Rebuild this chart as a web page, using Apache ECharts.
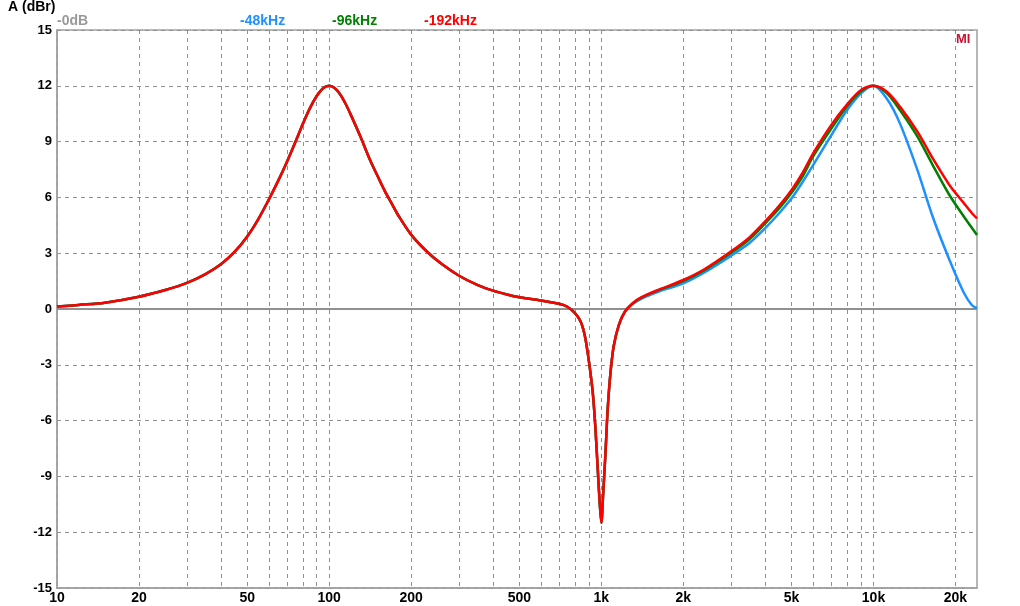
<!DOCTYPE html>
<html>
<head>
<meta charset="utf-8">
<script src="https://cdn.jsdelivr.net/npm/echarts@6/dist/echarts.min.js"></script>
<style>
html,body{margin:0;padding:0;background:#fff;}
#chart{width:1020px;height:606px;}
</style>
</head>
<body>
<div id="chart"></div>
<script>
// Frequencies (Hz)
var freqs = [10, 12, 15, 20, 25, 30, 35, 40, 45, 50, 55, 60, 65, 70, 75, 80, 85, 90, 95, 100,
  105, 110, 115, 120, 130, 140, 150, 160, 170, 180, 200, 230, 260, 300, 350, 400, 450, 500, 600, 700,
  750, 800, 840, 870, 900, 930, 950, 970, 985, 1000, 1015, 1035, 1055, 1080, 1110, 1160, 1220, 1300, 1400, 1600,
  2000, 2400, 3000, 3500, 4000, 4500, 5000, 5500, 6000, 7000, 8000, 9000, 10000, 11200, 12500, 14500, 16500, 19000, 21500, 23000, 24000];

// Common low/mid part (identical for all sample rates), values in dBr
var lowMid = [0.13, 0.22, 0.34, 0.66, 1.02, 1.4, 1.86, 2.4, 3.08, 3.9, 4.85, 5.88, 6.9, 7.92, 8.95, 9.95, 10.8, 11.45, 11.87, 12.0,
  11.87, 11.52, 11.02, 10.45, 9.3, 8.15, 7.2, 6.35, 5.65, 5.0, 4.0, 3.05, 2.4, 1.79, 1.3, 0.99, 0.78, 0.63, 0.46, 0.28,
  0.12, -0.22, -0.68, -1.45, -2.8, -4.5, -6.3, -8.6, -10.3, -11.5, -10.0, -7.8, -5.4, -3.45, -2.0, -0.85, -0.15];

// High part (from 1300 Hz on)
var high48 = [0.25, 0.55, 0.9, 1.38, 1.98, 2.87, 3.55, 4.35, 5.15, 5.95, 6.85, 7.74, 9.35, 10.7, 11.6, 12.0, 11.3, 9.98, 7.47, 4.96, 2.65, 0.86, 0.2, 0.04];
var high96 = [0.28, 0.6, 0.97, 1.5, 2.1, 3.02, 3.75, 4.6, 5.4, 6.25, 7.15, 8.2, 9.7, 10.9, 11.7, 12.0, 11.6, 10.7, 9.27, 7.74, 6.13, 4.96, 4.35, 3.98];
var high192 = [0.3, 0.62, 1.0, 1.56, 2.15, 3.1, 3.85, 4.71, 5.55, 6.4, 7.35, 8.37, 9.9, 11.0, 11.77, 12.0, 11.68, 10.88, 9.53, 8.1, 6.67, 5.68, 5.15, 4.87];

var xLabelValues = [10, 20, 50, 100, 200, 500, 1000, 2000, 5000, 10000, 20000];
var xGridValues = [10, 20, 30, 40, 50, 60, 70, 80, 90, 100, 200, 300, 400, 500, 600, 700, 800, 900,
  1000, 2000, 3000, 4000, 5000, 6000, 7000, 8000, 9000, 10000, 20000];
var refLine = [[10, 0], [24000, 0]];

var legendNames = ['-0dB', '-48kHz', '-96kHz', '-192kHz'];
var colors = ['#999999', '#1E90FF', '#008000', '#FF0000'];

function pair(vals) {
  return freqs.map(function (f, i) { return [f, vals[i]]; });
}

var chart = echarts.init(document.getElementById('chart'), null, {renderer: 'canvas'});
var FONT = '"Liberation Sans", Arial, sans-serif';

var option = {
  animation: false,
  backgroundColor: '#ffffff',
  grid: {left: 57, right: 43, top: 30, bottom: 18, containLabel: false, show: true, borderColor: '#a0a0a0', borderWidth: 1.5},
  xAxis: {
    type: 'log', logBase: 10, min: 10, max: 24000,
    axisLine: {show: true, onZero: false, lineStyle: {color: '#a0a0a0', width: 1.5}},
    axisTick: {show: false, customValues: xGridValues},
    axisLabel: {
      customValues: xLabelValues, margin: 3, color: '#000', fontWeight: 'bold', fontSize: 14, fontFamily: FONT,
      formatter: function (v) { return v >= 1000 ? (v / 1000) + 'k' : String(v); }
    },
    splitLine: {show: true, lineStyle: {color: '#909090', type: [4, 4], width: 1}}
  },
  yAxis: {
    type: 'value', min: -15, max: 15, interval: 3,
    axisLine: {show: true, lineStyle: {color: '#a0a0a0', width: 1.5}},
    axisTick: {show: false},
    axisLabel: {margin: 5, color: '#000', fontWeight: 'bold', fontSize: 13, fontFamily: FONT},
    splitLine: {show: true, lineStyle: {color: '#909090', type: [4, 4], width: 1}}
  },
  series: [
    {name: legendNames[0], type: 'line', data: refLine, symbol: 'none', lineStyle: {color: '#909090', width: 2}, z: 2},
    {name: legendNames[1], type: 'line', data: pair(lowMid.concat(high48)), symbol: 'none', smooth: 0.3, lineStyle: {color: colors[1], width: 2.5}, z: 3},
    {name: legendNames[2], type: 'line', data: pair(lowMid.concat(high96)), symbol: 'none', smooth: 0.3, lineStyle: {color: colors[2], width: 2.5}, z: 4},
    {name: legendNames[3], type: 'line', data: pair(lowMid.concat(high192)), symbol: 'none', smooth: 0.3, lineStyle: {color: colors[3], width: 2.5}, z: 5}
  ],
  graphic: [
    {type: 'text', left: 8, top: 0, style: {text: 'A (dBr)', fill: '#000', font: 'bold 14px ' + FONT}},
    {type: 'text', left: 57, top: 14, style: {text: legendNames[0], fill: colors[0], font: 'bold 14px ' + FONT}},
    {type: 'text', left: 240, top: 14, style: {text: legendNames[1], fill: colors[1], font: 'bold 14px ' + FONT}},
    {type: 'text', left: 332, top: 14, style: {text: legendNames[2], fill: colors[2], font: 'bold 14px ' + FONT}},
    {type: 'text', left: 424, top: 14, style: {text: legendNames[3], fill: colors[3], font: 'bold 14px ' + FONT}},
    {type: 'text', left: 956, top: 33, style: {text: 'MI', fill: '#c8102e', font: 'bold 13px ' + FONT}}
  ]
};
chart.setOption(option);
</script>
</body>
</html>
